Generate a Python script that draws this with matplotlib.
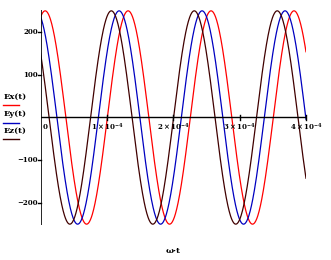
import numpy as np
import matplotlib.pyplot as plt

plt.rcParams['mathtext.fontset'] = 'custom'
plt.rcParams['mathtext.rm'] = 'DejaVu Serif:bold'
plt.rcParams['mathtext.default'] = 'rm'

# wave parameters
E0 = 250
omega = 2 * np.pi * 8000
phases = [0.35, -0.33, -0.92]          # Ex, Ey, Ez
names = ['Ex(t)', 'Ey(t)', 'Ez(t)']
colors = ['#ff0000', '#0000c0', '#400000']

xticks = [1e-4, 2e-4, 3e-4, 4e-4]
xtick_labels = [r'$1\times10^{-4}$', r'$2\times10^{-4}$', r'$3\times10^{-4}$', r'$4\times10^{-4}$']
yticks = [200, 100, -100, -200]
ytick_labels = ['200', '100', '\u2212100', '\u2212200']

t = np.linspace(0, 4e-4, 800)

fig = plt.figure(figsize=(3.31, 2.6), dpi=100)
ax = fig.add_axes([0.1224, 0.1346, 0.802, 0.827])

for ph, c in zip(phases, colors):
    ax.plot(t, E0 * np.cos(omega * t - ph), color=c, lw=0.9)

ax.set_xlim(0, 4e-4)
ax.set_ylim(-252, 252)

for s in ax.spines.values():
    s.set_visible(False)
ax.set_xticks([])
ax.set_yticks([])

# axes through the origin, Mathcad style
ax.axhline(0, color='black', lw=1.0)
ax.axvline(0, color='black', lw=1.2)

for x, lab in zip(xticks, xtick_labels):
    ax.plot([x, x], [-5, 5], color='black', lw=1.0, clip_on=False)
    ax.text(x, -22, lab, ha='center', va='center', fontsize=5, clip_on=False)
ax.text(0.07e-4, -22, '0', ha='center', va='center', fontsize=5,
        family='DejaVu Serif', fontweight='bold')

for y, lab in zip(yticks, ytick_labels):
    ax.plot([-0.04e-4, 0.01e-4], [y, y], color='black', lw=1.0, clip_on=False)
    ax.text(-0.04e-4, y, lab, ha='right', va='center', fontsize=5,
            family='DejaVu Serif', fontweight='bold')

# legend labels on the left
ly = [0.627, 0.56, 0.497]
for yy, n, c in zip(ly, names, colors):
    fig.text(0.012, yy, n, fontsize=6, family='DejaVu Serif', fontweight='bold',
             va='center', ha='left')
    fig.add_artist(plt.Line2D([0.009, 0.058], [yy - 0.032, yy - 0.032], color=c, lw=1.0))

fig.text(0.523, 0.035, '\u03c9\u00b7t', fontsize=6, family='DejaVu Serif',
         fontweight='bold', ha='center', va='center')

fig.savefig('out.png', dpi=100)
